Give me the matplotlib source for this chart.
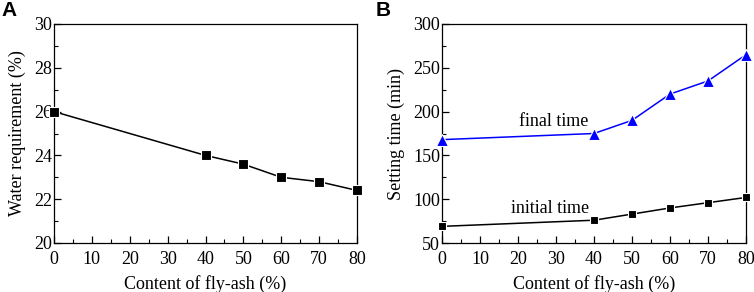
import matplotlib
matplotlib.use("Agg")
import matplotlib.pyplot as plt
from matplotlib.ticker import MultipleLocator

plt.rcParams['font.family'] = ['Liberation Serif', 'DejaVu Serif']
plt.rcParams['mathtext.fontset'] = 'stix'

fly_ash = [0, 40, 50, 60, 70, 80]
water_req = [26.0, 24.0, 23.6, 23.0, 22.8, 22.4]
initial_time = [69, 76, 83, 90, 96, 102]
final_time = [168, 175, 190, 220, 235, 265]

FS = 13
fig = plt.figure(figsize=(7.54, 2.92), dpi=100)
W, H = 754, 292
axA = fig.add_axes([54/W, 1-243/H, (357-54)/W, (243-24)/H])
axB = fig.add_axes([442/W, 1-243/H, (746-442)/W, (243-24)/H])

def style(ax):
    ax.tick_params(which='both', direction='in', top=False, right=False, labelsize=FS)
    ax.tick_params(which='major', length=5, width=0.9)
    ax.tick_params(which='minor', length=3, width=0.8)
    ax.tick_params(axis='x', which='both', pad=6)
    ax.tick_params(axis='y', which='both', pad=1.5)
    ax.xaxis.set_major_locator(MultipleLocator(10))
    ax.xaxis.set_minor_locator(MultipleLocator(5))
    ax.set_xlim(0, 80)
    for s in ax.spines.values():
        s.set_linewidth(0.9)
    ax.set_xlabel('Content of fly-ash (%)', fontsize=FS, labelpad=5)

style(axA)
axA.plot(fly_ash, water_req, color='black', lw=1.1, marker='s', ms=6.5,
         mfc='black', mec='white', mew=0.8, clip_on=False, zorder=3)
axA.set_ylim(20, 30)
axA.yaxis.set_major_locator(MultipleLocator(2))
axA.yaxis.set_minor_locator(MultipleLocator(1))
axA.set_ylabel('Water requirement (%)', fontsize=FS, labelpad=6)

style(axB)
axB.plot(fly_ash, initial_time, color='black', lw=1.1, marker='s', ms=5.5,
         mfc='black', mec='white', mew=0.8, clip_on=False, zorder=3)
axB.plot(fly_ash, final_time, color='#0000ff', lw=1.1, marker='^', ms=8.5,
         mfc='#0000ff', mec='white', mew=0.8, clip_on=False, zorder=3)
axB.set_ylim(50, 300)
axB.yaxis.set_major_locator(MultipleLocator(50))
axB.yaxis.set_minor_locator(MultipleLocator(25))
axB.set_ylabel('Setting time (min)', fontsize=FS, labelpad=6)
axB.text(29.5, 189, 'final time', fontsize=FS, ha='center', va='center')
axB.text(28.4, 89, 'initial time', fontsize=FS, ha='center', va='center')

fig.text(1/W, 1-11/H, 'A', fontsize=15, fontweight='bold', family='Liberation Sans', va='center', ha='left')
fig.text(376/W, 1-11/H, 'B', fontsize=15, fontweight='bold', family='Liberation Sans', va='center', ha='left')

fig.savefig('out.png', dpi=100)
